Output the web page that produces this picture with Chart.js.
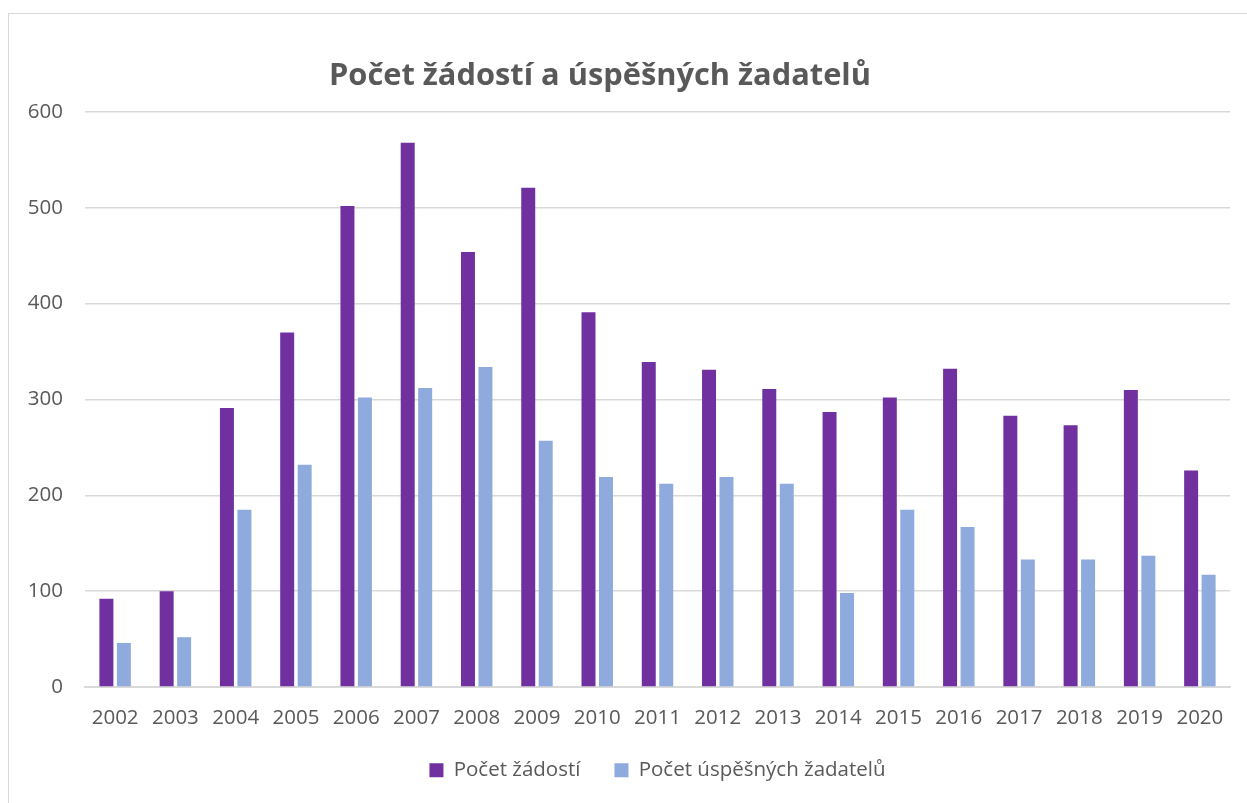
<!DOCTYPE html>
<html>
<head>
<meta charset="utf-8">
<script src="https://cdn.jsdelivr.net/npm/chart.js@4"></script>
<style>
    html, body { margin: 0; padding: 0; background: #fff; overflow: hidden; }
    body { width: 1247px; height: 803px; position: relative; }
    #frame {
        position: absolute; left: 8px; top: 13px;
        width: 1260px; height: 820px;
        border: 1px solid #d9d9d9; box-sizing: border-box;
    }
    #wrap { position: absolute; left: -40px; top: 0; width: 1284px; height: 803px; }
</style>
</head>
<body>
<div id="frame"></div>
<div id="wrap"><canvas id="chart"></canvas></div>
<script>
// Years on the x axis
const years = ['2002', '2003', '2004', '2005', '2006', '2007', '2008', '2009', '2010',
    '2011', '2012', '2013', '2014', '2015', '2016', '2017', '2018', '2019', '2020'];

// Počet žádostí
const applications = [92, 100, 291, 370, 502, 568, 454, 521, 391, 339, 331, 311, 287, 302, 332, 283, 273, 310, 226];

// Počet úspěšných žadatelů
const successful = [46, 52, 185, 232, 302, 312, 334, 257, 219, 212, 219, 212, 98, 185, 167, 133, 133, 137, 117];

const yTicks = [0, 100, 200, 300, 400, 500, 600];

const textGray = '#595959';
const gridGray = '#d9d9d9';
const fontFamily = '"Open Sans", "DejaVu Sans", sans-serif';

const ctx = document.querySelector('#chart');
new Chart(ctx, {
    type: 'bar',
    data: {
        labels: years,
        datasets: [
            {
                label: 'Počet žádostí',
                data: applications,
                backgroundColor: '#7030a0',
                categoryPercentage: 0.58,
                barPercentage: 0.8
            },
            {
                label: 'Počet úspěšných žadatelů',
                data: successful,
                backgroundColor: '#8faadc',
                categoryPercentage: 0.58,
                barPercentage: 0.8
            }
        ]
    },
    options: {
        responsive: true,
        maintainAspectRatio: false,
        animation: false,
        layout: {
            padding: { left: 10, right: 14, top: 58, bottom: 12.5 }
        },
        plugins: {
            title: {
                display: true,
                text: 'Počet žádostí a úspěšných žadatelů',
                color: textGray,
                font: { family: fontFamily, size: 30.8, weight: 'bold' },
                padding: { top: 0, bottom: 17 }
            },
            legend: {
                position: 'bottom',
                fullSize: false,
                labels: {
                    color: textGray,
                    font: { family: fontFamily, size: 20.5 },
                    boxWidth: 14,
                    boxHeight: 14,
                    padding: 34
                }
            },
            tooltip: { enabled: false }
        },
        scales: {
            x: {
                // tighter axis box so the legend sits close under the labels
                afterFit: (axis) => {
                    axis.height = 39;
                },
                grid: { display: false, drawTicks: false },
                border: { color: gridGray, width: 2 },
                ticks: {
                    color: textGray,
                    font: { family: fontFamily, size: 20.5 },
                    padding: 19,
                    maxRotation: 0
                }
            },
            y: {
                min: yTicks[0],
                max: yTicks[yTicks.length - 1],
                afterBuildTicks: (axis) => {
                    axis.ticks = yTicks.map(v => ({ value: v }));
                },
                // wide axis box keeps the title centred where the original has it
                afterFit: (axis) => {
                    axis.width = 115;
                },
                grid: { color: gridGray, lineWidth: 1.5, drawTicks: false },
                border: { display: false },
                ticks: {
                    color: textGray,
                    font: { family: fontFamily, size: 20.5 },
                    padding: 22
                }
            }
        }
    }
});
</script>
</body>
</html>
